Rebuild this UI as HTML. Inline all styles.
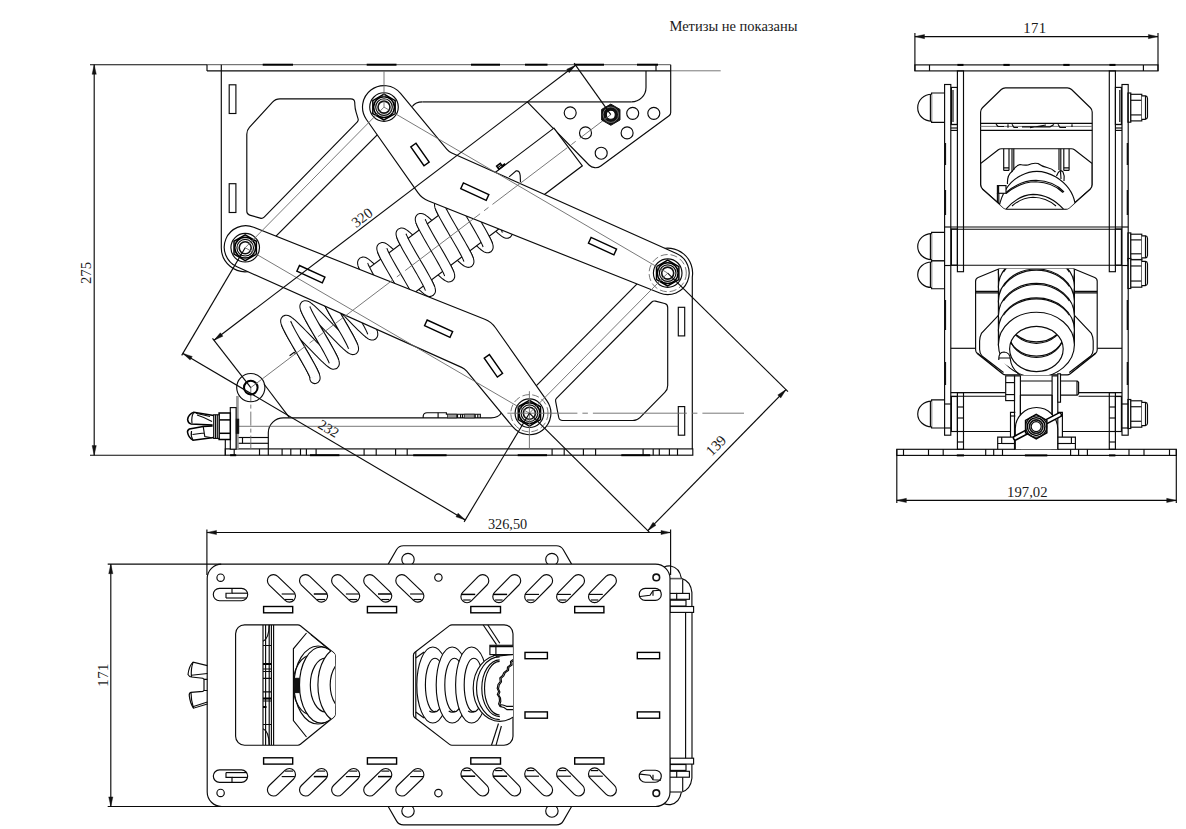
<!DOCTYPE html>
<html lang="ru"><head><meta charset="utf-8"><title>Чертёж</title>
<style>
html,body{margin:0;padding:0;background:#fff}
svg{display:block}
.m{fill:none;stroke:#0a0a0a;stroke-width:1.15}
.mw{fill:#fff;stroke:#0a0a0a;stroke-width:1.15}
.m2{fill:none;stroke:#555;stroke-width:.8}
.g{fill:none;stroke:#6a6a6a;stroke-width:.9}
.gk{fill:none;stroke:#5a5a5a;stroke-width:1.6}
.gf{fill:#9a9a9a;stroke:#222;stroke-width:.8}
.gf2{fill:#9a9a9a;stroke:none}
.mw15{fill:#fff;stroke:#000;stroke-width:1.5}
.fw{fill:#fff;stroke:none}
.gr{fill:none;stroke:#777;stroke-width:.9}
.k15{fill:none;stroke:#000;stroke-width:1.5}
.g1{fill:none;stroke:#555;stroke-width:1}
.gd{fill:none;stroke:#6a6a6a;stroke-width:.9;stroke-dasharray:7 3}
.gc{fill:none;stroke:#6a6a6a;stroke-width:.9;stroke-dasharray:94 5 5.5 5}
.gc2{fill:none;stroke:#6a6a6a;stroke-width:.9;stroke-dasharray:14 3 4 3}
.s{fill:none;stroke:#000;stroke-width:1.4}
.wb{fill:none;stroke:#0a0a0a;stroke-width:11.05}
.ww{fill:none;stroke:#fff;stroke-width:8.95}
.rj{stroke-linejoin:round;stroke-linecap:round}
.k2{fill:none;stroke:#111;stroke-width:1.6}
.k3{fill:none;stroke:#000;stroke-width:2}
.kf{fill:#111;stroke:#111;stroke-width:1}
.a{fill:#111;stroke:#111;stroke-width:.4}
.t{font-family:"Liberation Serif",serif;fill:#1a1a1a}
</style></head>
<body>
<svg width="1186" height="829" viewBox="0 0 1186 829">
<path class="m" d="M90 64.7L207 64.7"/>
<path class="g1" d="M207 64.7L670.7 64.7"/>
<path class="k3" d="M262.7 64.7L293 64.7"/>
<path class="k3" d="M366.7 64.7L396.5 64.7"/>
<path class="k3" d="M471 64.7L500 64.7"/>
<path class="k3" d="M525 64.7L547.5 64.7"/>
<path class="k3" d="M574.5 64.7L604 64.7"/>
<path class="k3" d="M637 64.7L658 64.7"/>
<path class="m" d="M207 70.9L670.7 70.9"/>
<path class="m" d="M207 64.7L207 70.9"/>
<path class="m" d="M656 64.7L656 70.9"/>
<path class="g" d="M670.7 70.8L720.7 70.8"/>
<path class="m" d="M221.3 64.7L221.3 247.5A24.1 24.1 0 0 0 250.21 271.27"/>
<rect class="m" x="229.2" y="84.8" width="6.7" height="28.7"/>
<rect class="m" x="229.2" y="183.7" width="6.7" height="28.8"/>
<path class="m" d="M272.53 102.07A10 10 0 0 1 279.92 98.8L350.76 98.8A4 4 0 0 1 354.76 102.64L354.85 104.76A30 30 0 0 0 356.07 112.08L358.1 118.91A3 3 0 0 1 357.37 121.86L264.17 217.1A4 4 0 0 1 260.21 218.14L249.7 215.13A4 4 0 0 1 246.8 211.29L246.8 134.17A10 10 0 0 1 249.41 127.44Z"/>
<path class="m" d="M270 242.2L382 130.2"/>
<path class="m" d="M412.3 106.5Q415.5 101.9 422.6 101.9"/>
<path class="gk" d="M422.6 101.9L631.5 101.9"/>
<path class="m" d="M631.5 101.9A14.5 14.5 0 0 0 646 87.4L646 70.9"/>
<path class="m" d="M527.3 101.9L589.03 165.01A9 9 0 0 0 600.8 165.96L669.07 115.7A4 4 0 0 0 670.7 112.48L670.7 64.7"/>
<circle class="m" cx="570.2" cy="112.8" r="6"/>
<circle class="m" cx="632.7" cy="113.3" r="6"/>
<circle class="m" cx="653.8" cy="113.3" r="6"/>
<circle class="m" cx="585.5" cy="132.9" r="6"/>
<circle class="m" cx="627.1" cy="132.9" r="6"/>
<circle class="m" cx="601.2" cy="153.2" r="6"/>
<path class="m" d="M692.3 448.9L692.3 277.1 A25 25 0 0 0 659.15 249.61"/>
<rect class="m" x="678.3" y="307.3" width="6.4" height="28.6"/>
<rect class="m" x="678.3" y="406.6" width="6.4" height="28.6"/>
<path class="m" d="M531 391.2L643 277.8"/>
<path class="m" d="M651.59 302.23A4 4 0 0 1 655.42 301.17L664.69 303.53A4 4 0 0 1 667.7 307.41L667.7 385.39A10 10 0 0 1 664.81 392.42L639.93 417.54A10 10 0 0 1 632.83 420.5L562.61 420.5A4 4 0 0 1 558.68 417.25L555.6 401.05A3 3 0 0 1 556.41 398.38Z"/>
<rect class="m" x="225.3" y="448.9" width="467.5" height="6.3"/>
<path class="m" d="M90 455.2L225.3 455.2"/>
<path class="m" d="M234.2 448.9L234.2 455.2"/>
<path class="m" d="M259.5 448.9L259.5 455.2"/>
<path class="m" d="M268.3 448.9L268.3 455.2"/>
<path class="m" d="M282.1 448.9L282.1 455.2"/>
<path class="m" d="M290.8 448.9L290.8 455.2"/>
<path class="m" d="M300.5 448.9L300.5 455.2"/>
<path class="m" d="M306.4 448.9L306.4 455.2"/>
<path class="m" d="M316.1 448.9L316.1 455.2"/>
<path class="m" d="M364.1 448.9L364.1 455.2"/>
<path class="m" d="M376.2 448.9L376.2 455.2"/>
<path class="m" d="M395.6 448.9L395.6 455.2"/>
<path class="m" d="M407.2 448.9L407.2 455.2"/>
<path class="m" d="M552.1 448.9L552.1 455.2"/>
<path class="m" d="M564.2 448.9L564.2 455.2"/>
<path class="m" d="M583.4 448.9L583.4 455.2"/>
<path class="m" d="M595.6 448.9L595.6 455.2"/>
<path class="m" d="M643.1 448.9L643.1 455.2"/>
<path class="m" d="M653.2 448.9L653.2 455.2"/>
<path class="m" d="M659.3 448.9L659.3 455.2"/>
<path class="m" d="M669.4 448.9L669.4 455.2"/>
<path class="m" d="M677.5 448.9L677.5 455.2"/>
<path class="k3" d="M230.1 455.2L236.2 455.2"/>
<path class="k3" d="M310 455.2L339.4 455.2"/>
<path class="k3" d="M413.2 455.2L446.6 455.2"/>
<path class="k3" d="M517.7 455.2L547 455.2"/>
<path class="k3" d="M621.3 455.2L650.2 455.2"/>
<path class="m" d="M268.3 448.9L268.3 432.4A15 15 0 0 1 283.3 417.9L491 417.9Q498.5 417.9 501.5 412.8"/>
<path class="m" d="M423.2 417.9L423.2 416Q423.5 412.7 427 412.7L446.4 412.7L446.4 414.2L480.3 414.2L480.3 417.9"/>
<path class="m" d="M438.1 412.7L438.1 417.9"/>
<rect class="gf" x="447.4" y="414.2" width="9.1" height="3.7"/>
<rect class="gf" x="464.6" y="414.2" width="9.7" height="3.7"/>
<path class="m" d="M457.5 414.2L457.5 417.9"/>
<path class="m" d="M460.6 414.2L460.6 417.9"/>
<path class="m" d="M462.6 414.2L462.6 417.9"/>
<path class="m" d="M475.2 414.2L475.2 417.9"/>
<path class="m" d="M477.8 414.2L477.8 417.9"/>
<path class="m2" d="M226 426.3L678.3 426.3"/>
<path class="m" d="M225.3 426.8L225.3 455.2"/>
<path class="m" d="M238.2 437.5L268.3 437.5"/>
<path class="m" d="M238.2 443.3L268.3 443.3"/>
<path class="m" d="M242.5 437.5L242.5 443.3"/>
<path class="m" d="M237.5 396L237.5 448.9"/>
<path class="m" d="M264 384L289.2 417.4"/>
<path class="gc2" d="M250.8 387.6L250.8 448.9"/>
<circle class="m" cx="250.8" cy="387.6" r="14.1"/>
<circle class="k3" cx="250.8" cy="387.6" r="6.8"/>
<rect class="gf2" x="236.1" y="396" width="2.6" height="53.2"/>
<rect class="mw" x="230.3" y="407.6" width="5.8" height="41.6"/>
<rect class="kf" x="236.3" y="419.2" width="2.4" height="14.1"/>
<rect class="mw15" x="219.1" y="413" width="11.2" height="26.5"/>
<path class="k15" d="M219.1 419.9L230.3 419.9"/>
<path class="k15" d="M219.1 433.3L230.3 433.3"/>
<rect class="mw" x="213.7" y="414.8" width="5.4" height="23.6"/>
<path class="m" d="M215.5 414.8L215.5 438.4"/>
<path class="m" d="M217.3 414.8L217.3 438.4"/>
<path class="k15" d="M213.7 415.6L193.8 412.3Q188.5 414 187.6 419.6Q188 423 190.9 423.9L211.9 425L211.9 426.1L203.2 426.4L189.4 429Q187 430.5 187.6 432.6Q188.5 437.5 193 440.2L211.9 437.7L213.7 437.4"/>
<path class="m" d="M193.8 412.3Q191 417 192 423.5M196 413.2L210 416.5M197 415Q205 417.5 212 421.5M193 440.2Q190.5 436 191.5 431M203.2 426.4L204.8 436.5L211.9 437.7M192.5 434.5L203.8 433"/>
<path class="wb rj" d="M478.18 174.87L477.95 175.34L478 176.17L478.33 177.37L478.91 178.92L479.75 180.79L480.82 182.97L482.1 185.43L483.56 188.14L485.19 191.05L486.94 194.14L488.8 197.36L490.72 200.68L492.68 204.03L494.63 207.39L496.56 210.7L498.41 213.92L500.17 217.01L501.79 219.93L503.26 222.64L504.54 225.09L505.6 227.28L506.44 229.15L507.03 230.69L507.35 231.89L507.4 232.73L507.17 233.19L506.66 233.28L505.87 233.01L504.81 232.37L503.48 231.39L501.91 230.07L500.1 228.45L498.08 226.55L495.88 224.4L493.51 222.05L491.02 219.52L488.42 216.85L485.76 214.1L483.06 211.3L480.37 208.51L477.7 205.76L475.11 203.09L472.61 200.56L470.25 198.2L468.04 196.06L466.03 194.16L464.22 192.54L462.64 191.22L461.32 190.24L460.25 189.6L459.46 189.32L458.95 189.42L458.72 189.88L458.77 190.72L459.1 191.91L459.68 193.46L460.52 195.33L461.59 197.51L462.87 199.97L464.33 202.68L465.96 205.6L467.71 208.69L469.57 211.91L471.49 215.22L473.45 218.58L475.4 221.93L477.33 225.24L479.18 228.47L480.94 231.56L482.56 234.47L484.03 237.18L485.31 239.64L486.37 241.82L487.21 243.69L487.8 245.24L488.12 246.43L488.17 247.27L487.94 247.73L487.43 247.83L486.64 247.55L485.58 246.91L484.25 245.93L482.68 244.61L480.87 242.99L478.85 241.09L476.65 238.95L474.28 236.59L471.79 234.06L469.19 231.4L466.53 228.64L463.83 225.85L461.14 223.05L458.47 220.3L455.88 217.64L453.38 215.1L451.02 212.75L448.81 210.6L446.8 208.7L444.99 207.08L443.41 205.76L442.09 204.78L441.02 204.14L440.23 203.87L439.72 203.96L439.49 204.43L439.54 205.26L439.87 206.46L440.45 208L441.29 209.88L442.36 212.06L443.64 214.52L445.1 217.22L446.73 220.14L448.48 223.23L450.34 226.45L452.26 229.76L454.22 233.12L456.17 236.47L458.1 239.79L459.95 243.01L461.71 246.1L463.33 249.02L464.8 251.72L466.08 254.18L467.14 256.36L467.98 258.24L468.57 259.78L468.89 260.98L468.94 261.81L468.71 262.28L468.2 262.37L467.41 262.1L466.35 261.46L465.02 260.47L463.45 259.16L461.64 257.54L459.62 255.64L457.42 253.49L455.05 251.13L452.56 248.6L449.96 245.94L447.3 243.19L444.6 240.39L441.91 237.59L439.24 234.84L436.65 232.18L434.15 229.65L431.79 227.29L429.58 225.14L427.57 223.24L425.76 221.62L424.18 220.31L422.86 219.32L421.79 218.69L421 218.41L420.49 218.5L420.26 218.97L420.31 219.8L420.64 221L421.22 222.55L422.06 224.42L423.13 226.6L424.41 229.06L425.87 231.76L427.5 234.68L429.25 237.77L431.11 240.99L433.03 244.31L434.99 247.66L436.94 251.02L438.87 254.33L440.72 257.55L442.48 260.64L444.1 263.56L445.57 266.26L446.85 268.72L447.91 270.9L448.75 272.78L449.34 274.32L449.66 275.52L449.71 276.36L449.48 276.82L448.97 276.91L448.18 276.64L447.12 276L445.79 275.02L444.22 273.7L442.41 272.08L440.39 270.18L438.19 268.03L435.82 265.68L433.33 263.15L430.73 260.48L428.07 257.73L425.37 254.93L422.68 252.14L420.01 249.38L417.42 246.72L414.92 244.19L412.56 241.83L410.35 239.69L408.34 237.79L406.53 236.17L404.95 234.85L403.63 233.87L402.56 233.23L401.77 232.95L401.26 233.05L401.03 233.51L401.08 234.35L401.41 235.54L401.99 237.09L402.83 238.96L403.9 241.14L405.18 243.6L406.64 246.31L408.27 249.23L410.02 252.32L411.88 255.54L413.8 258.85L415.76 262.21L417.71 265.56L419.64 268.87L421.49 272.09L423.25 275.18L424.87 278.1L426.34 280.81L427.62 283.27L428.68 285.45L429.52 287.32L430.11 288.87L430.43 290.06L430.48 290.9L430.25 291.36L429.74 291.46L428.95 291.18L427.89 290.54L426.56 289.56L424.99 288.24L423.18 286.62L421.16 284.72L418.96 282.58L416.59 280.22L414.1 277.69L411.5 275.03L408.84 272.27L406.14 269.48L403.45 266.68L400.78 263.93L398.19 261.26L395.69 258.73L393.33 256.38L391.12 254.23L389.11 252.33L387.3 250.71L385.72 249.39L384.4 248.41L383.33 247.77L382.54 247.5L382.03 247.59L381.8 248.05L381.85 248.89L382.18 250.09L382.76 251.63L383.6 253.51L384.67 255.69L385.95 258.15L387.41 260.85L389.04 263.77L390.79 266.86L392.65 270.08L394.57 273.39L396.53 276.75L398.48 280.1L400.41 283.42L402.26 286.64L404.02 289.73L405.64 292.65L407.11 295.35L408.39 297.81L409.45 299.99L410.29 301.86L410.88 303.41L411.2 304.61L411.25 305.44L411.02 305.91L410.51 306L409.72 305.72L408.66 305.09L407.33 304.1L405.76 302.79L403.95 301.17L401.93 299.27L399.73 297.12L397.36 294.76L394.87 292.23L392.27 289.57L389.61 286.82L386.91 284.02L384.22 281.22L381.55 278.47L378.96 275.81L376.46 273.28L374.1 270.92L371.89 268.77L369.87 266.87L368.07 265.25L366.49 263.94L365.17 262.95L364.1 262.31L363.31 262.04L362.8 262.13L362.57 262.6L362.62 263.43L362.95 264.63L363.53 266.17L364.37 268.05L365.44 270.23L366.72 272.69L368.18 275.39L369.81 278.31L371.56 281.4L373.42 284.62L375.34 287.94L377.3 291.29L379.25 294.65L381.18 297.96L383.03 301.18L384.79 304.27L386.41 307.19L387.88 309.89L389.16 312.35L390.22 314.53L391.06 316.41L391.65 317.95L391.97 319.15L392.02 319.98L391.79 320.45L391.28 320.54L390.49 320.27L389.43 319.63L388.1 318.65L386.53 317.33L384.72 315.71L382.7 313.81L380.5 311.66L378.13 309.31L375.64 306.77L373.04 304.11L370.38 301.36L367.68 298.56L364.99 295.77L362.32 293.01L359.73 290.35L357.23 287.82L354.87 285.46L352.66 283.32L350.64 281.42L348.84 279.8L347.26 278.48L345.94 277.5L344.87 276.86L344.08 276.58L343.57 276.68L343.34 277.14L343.39 277.98L343.72 279.17L344.3 280.72L345.14 282.59L346.21 284.77L347.49 287.23L348.95 289.94L350.58 292.85L352.33 295.94L354.19 299.17L356.11 302.48L358.07 305.83L360.02 309.19L361.95 312.5L363.8 315.72L365.56 318.81L367.18 321.73L368.65 324.44L369.93 326.9L370.99 329.08L371.83 330.95L372.42 332.5L372.74 333.69L372.79 334.53L372.56 334.99L372.05 335.09L371.26 334.81L370.2 334.17L368.87 333.19L367.3 331.87L365.49 330.25L363.47 328.35L361.27 326.21L358.9 323.85L356.41 321.32L353.81 318.65L351.15 315.9L348.45 313.11L345.75 310.31L343.09 307.56L340.5 304.89L338 302.36L335.64 300.01L333.43 297.86L331.41 295.96L329.61 294.34L328.03 293.02L326.71 292.04L325.64 291.4L324.85 291.13L324.34 291.22L324.11 291.68L324.16 292.52L324.49 293.72L325.07 295.26L325.91 297.14L326.98 299.32L328.26 301.77L329.72 304.48L331.35 307.4L333.1 310.49L334.96 313.71L336.88 317.02L338.84 320.38L340.79 323.73L342.72 327.05L344.57 330.27L346.33 333.36L347.95 336.27L349.42 338.98L350.7 341.44L351.76 343.62L352.6 345.49L353.19 347.04L353.51 348.24L353.56 349.07L353.33 349.54L352.82 349.63L352.03 349.35L350.97 348.72L349.64 347.73L348.07 346.42L346.26 344.8L344.24 342.9L342.04 340.75L339.67 338.39L337.18 335.86L334.58 333.2L331.92 330.45L329.22 327.65L326.52 324.85L323.86 322.1L321.27 319.44L318.77 316.91L316.41 314.55L314.2 312.4L312.18 310.5L310.38 308.88L308.8 307.57L307.48 306.58L306.41 305.94L305.62 305.67L305.11 305.76L304.88 306.23L304.93 307.06L305.26 308.26L305.84 309.8L306.68 311.68L307.75 313.86L309.03 316.32L310.49 319.02L312.12 321.94L313.87 325.03L315.73 328.25L317.65 331.56L319.61 334.92L321.56 338.28L323.49 341.59L325.34 344.81L327.1 347.9L328.72 350.82L330.19 353.52L331.47 355.98L332.53 358.16L333.37 360.04L333.96 361.58L334.28 362.78L334.33 363.61L334.1 364.08L333.59 364.17L332.8 363.9L331.74 363.26L330.41 362.27L328.84 360.96L327.03 359.34L325.01 357.44L322.81 355.29L320.44 352.93L317.95 350.4L315.35 347.74L312.69 344.99L309.99 342.19L307.29 339.4L304.63 336.64L302.04 333.98L299.54 331.45L297.18 329.09L294.97 326.95L292.95 325.05L291.15 323.42L289.57 322.11L288.24 321.12L287.18 320.49L286.39 320.21L285.88 320.3L285.65 320.77L285.7 321.61L286.03 322.8L286.61 324.35L287.45 326.22L288.52 328.4L289.8 330.86L291.26 333.57L292.89 336.48L294.64 339.57L296.5 342.8L298.42 346.11L300.38 349.46L302.33 352.82L304.26 356.13L306.11 359.35L307.87 362.44L309.49 365.36L310.96 368.07L312.24 370.53L313.3 372.71L314.14 374.58L314.73 376.13L315.05 377.32L315.1 378.16L314.87 378.62"/><path class="ww rj" d="M478.18 174.87L477.95 175.34L478 176.17L478.33 177.37L478.91 178.92L479.75 180.79L480.82 182.97L482.1 185.43L483.56 188.14L485.19 191.05L486.94 194.14L488.8 197.36L490.72 200.68L492.68 204.03L494.63 207.39L496.56 210.7L498.41 213.92L500.17 217.01L501.79 219.93L503.26 222.64L504.54 225.09L505.6 227.28L506.44 229.15L507.03 230.69L507.35 231.89L507.4 232.73L507.17 233.19L506.66 233.28L505.87 233.01L504.81 232.37L503.48 231.39L501.91 230.07L500.1 228.45L498.08 226.55L495.88 224.4L493.51 222.05L491.02 219.52L488.42 216.85L485.76 214.1L483.06 211.3L480.37 208.51L477.7 205.76L475.11 203.09L472.61 200.56L470.25 198.2L468.04 196.06L466.03 194.16L464.22 192.54L462.64 191.22L461.32 190.24L460.25 189.6L459.46 189.32L458.95 189.42L458.72 189.88L458.77 190.72L459.1 191.91L459.68 193.46L460.52 195.33L461.59 197.51L462.87 199.97L464.33 202.68L465.96 205.6L467.71 208.69L469.57 211.91L471.49 215.22L473.45 218.58L475.4 221.93L477.33 225.24L479.18 228.47L480.94 231.56L482.56 234.47L484.03 237.18L485.31 239.64L486.37 241.82L487.21 243.69L487.8 245.24L488.12 246.43L488.17 247.27L487.94 247.73L487.43 247.83L486.64 247.55L485.58 246.91L484.25 245.93L482.68 244.61L480.87 242.99L478.85 241.09L476.65 238.95L474.28 236.59L471.79 234.06L469.19 231.4L466.53 228.64L463.83 225.85L461.14 223.05L458.47 220.3L455.88 217.64L453.38 215.1L451.02 212.75L448.81 210.6L446.8 208.7L444.99 207.08L443.41 205.76L442.09 204.78L441.02 204.14L440.23 203.87L439.72 203.96L439.49 204.43L439.54 205.26L439.87 206.46L440.45 208L441.29 209.88L442.36 212.06L443.64 214.52L445.1 217.22L446.73 220.14L448.48 223.23L450.34 226.45L452.26 229.76L454.22 233.12L456.17 236.47L458.1 239.79L459.95 243.01L461.71 246.1L463.33 249.02L464.8 251.72L466.08 254.18L467.14 256.36L467.98 258.24L468.57 259.78L468.89 260.98L468.94 261.81L468.71 262.28L468.2 262.37L467.41 262.1L466.35 261.46L465.02 260.47L463.45 259.16L461.64 257.54L459.62 255.64L457.42 253.49L455.05 251.13L452.56 248.6L449.96 245.94L447.3 243.19L444.6 240.39L441.91 237.59L439.24 234.84L436.65 232.18L434.15 229.65L431.79 227.29L429.58 225.14L427.57 223.24L425.76 221.62L424.18 220.31L422.86 219.32L421.79 218.69L421 218.41L420.49 218.5L420.26 218.97L420.31 219.8L420.64 221L421.22 222.55L422.06 224.42L423.13 226.6L424.41 229.06L425.87 231.76L427.5 234.68L429.25 237.77L431.11 240.99L433.03 244.31L434.99 247.66L436.94 251.02L438.87 254.33L440.72 257.55L442.48 260.64L444.1 263.56L445.57 266.26L446.85 268.72L447.91 270.9L448.75 272.78L449.34 274.32L449.66 275.52L449.71 276.36L449.48 276.82L448.97 276.91L448.18 276.64L447.12 276L445.79 275.02L444.22 273.7L442.41 272.08L440.39 270.18L438.19 268.03L435.82 265.68L433.33 263.15L430.73 260.48L428.07 257.73L425.37 254.93L422.68 252.14L420.01 249.38L417.42 246.72L414.92 244.19L412.56 241.83L410.35 239.69L408.34 237.79L406.53 236.17L404.95 234.85L403.63 233.87L402.56 233.23L401.77 232.95L401.26 233.05L401.03 233.51L401.08 234.35L401.41 235.54L401.99 237.09L402.83 238.96L403.9 241.14L405.18 243.6L406.64 246.31L408.27 249.23L410.02 252.32L411.88 255.54L413.8 258.85L415.76 262.21L417.71 265.56L419.64 268.87L421.49 272.09L423.25 275.18L424.87 278.1L426.34 280.81L427.62 283.27L428.68 285.45L429.52 287.32L430.11 288.87L430.43 290.06L430.48 290.9L430.25 291.36L429.74 291.46L428.95 291.18L427.89 290.54L426.56 289.56L424.99 288.24L423.18 286.62L421.16 284.72L418.96 282.58L416.59 280.22L414.1 277.69L411.5 275.03L408.84 272.27L406.14 269.48L403.45 266.68L400.78 263.93L398.19 261.26L395.69 258.73L393.33 256.38L391.12 254.23L389.11 252.33L387.3 250.71L385.72 249.39L384.4 248.41L383.33 247.77L382.54 247.5L382.03 247.59L381.8 248.05L381.85 248.89L382.18 250.09L382.76 251.63L383.6 253.51L384.67 255.69L385.95 258.15L387.41 260.85L389.04 263.77L390.79 266.86L392.65 270.08L394.57 273.39L396.53 276.75L398.48 280.1L400.41 283.42L402.26 286.64L404.02 289.73L405.64 292.65L407.11 295.35L408.39 297.81L409.45 299.99L410.29 301.86L410.88 303.41L411.2 304.61L411.25 305.44L411.02 305.91L410.51 306L409.72 305.72L408.66 305.09L407.33 304.1L405.76 302.79L403.95 301.17L401.93 299.27L399.73 297.12L397.36 294.76L394.87 292.23L392.27 289.57L389.61 286.82L386.91 284.02L384.22 281.22L381.55 278.47L378.96 275.81L376.46 273.28L374.1 270.92L371.89 268.77L369.87 266.87L368.07 265.25L366.49 263.94L365.17 262.95L364.1 262.31L363.31 262.04L362.8 262.13L362.57 262.6L362.62 263.43L362.95 264.63L363.53 266.17L364.37 268.05L365.44 270.23L366.72 272.69L368.18 275.39L369.81 278.31L371.56 281.4L373.42 284.62L375.34 287.94L377.3 291.29L379.25 294.65L381.18 297.96L383.03 301.18L384.79 304.27L386.41 307.19L387.88 309.89L389.16 312.35L390.22 314.53L391.06 316.41L391.65 317.95L391.97 319.15L392.02 319.98L391.79 320.45L391.28 320.54L390.49 320.27L389.43 319.63L388.1 318.65L386.53 317.33L384.72 315.71L382.7 313.81L380.5 311.66L378.13 309.31L375.64 306.77L373.04 304.11L370.38 301.36L367.68 298.56L364.99 295.77L362.32 293.01L359.73 290.35L357.23 287.82L354.87 285.46L352.66 283.32L350.64 281.42L348.84 279.8L347.26 278.48L345.94 277.5L344.87 276.86L344.08 276.58L343.57 276.68L343.34 277.14L343.39 277.98L343.72 279.17L344.3 280.72L345.14 282.59L346.21 284.77L347.49 287.23L348.95 289.94L350.58 292.85L352.33 295.94L354.19 299.17L356.11 302.48L358.07 305.83L360.02 309.19L361.95 312.5L363.8 315.72L365.56 318.81L367.18 321.73L368.65 324.44L369.93 326.9L370.99 329.08L371.83 330.95L372.42 332.5L372.74 333.69L372.79 334.53L372.56 334.99L372.05 335.09L371.26 334.81L370.2 334.17L368.87 333.19L367.3 331.87L365.49 330.25L363.47 328.35L361.27 326.21L358.9 323.85L356.41 321.32L353.81 318.65L351.15 315.9L348.45 313.11L345.75 310.31L343.09 307.56L340.5 304.89L338 302.36L335.64 300.01L333.43 297.86L331.41 295.96L329.61 294.34L328.03 293.02L326.71 292.04L325.64 291.4L324.85 291.13L324.34 291.22L324.11 291.68L324.16 292.52L324.49 293.72L325.07 295.26L325.91 297.14L326.98 299.32L328.26 301.77L329.72 304.48L331.35 307.4L333.1 310.49L334.96 313.71L336.88 317.02L338.84 320.38L340.79 323.73L342.72 327.05L344.57 330.27L346.33 333.36L347.95 336.27L349.42 338.98L350.7 341.44L351.76 343.62L352.6 345.49L353.19 347.04L353.51 348.24L353.56 349.07L353.33 349.54L352.82 349.63L352.03 349.35L350.97 348.72L349.64 347.73L348.07 346.42L346.26 344.8L344.24 342.9L342.04 340.75L339.67 338.39L337.18 335.86L334.58 333.2L331.92 330.45L329.22 327.65L326.52 324.85L323.86 322.1L321.27 319.44L318.77 316.91L316.41 314.55L314.2 312.4L312.18 310.5L310.38 308.88L308.8 307.57L307.48 306.58L306.41 305.94L305.62 305.67L305.11 305.76L304.88 306.23L304.93 307.06L305.26 308.26L305.84 309.8L306.68 311.68L307.75 313.86L309.03 316.32L310.49 319.02L312.12 321.94L313.87 325.03L315.73 328.25L317.65 331.56L319.61 334.92L321.56 338.28L323.49 341.59L325.34 344.81L327.1 347.9L328.72 350.82L330.19 353.52L331.47 355.98L332.53 358.16L333.37 360.04L333.96 361.58L334.28 362.78L334.33 363.61L334.1 364.08L333.59 364.17L332.8 363.9L331.74 363.26L330.41 362.27L328.84 360.96L327.03 359.34L325.01 357.44L322.81 355.29L320.44 352.93L317.95 350.4L315.35 347.74L312.69 344.99L309.99 342.19L307.29 339.4L304.63 336.64L302.04 333.98L299.54 331.45L297.18 329.09L294.97 326.95L292.95 325.05L291.15 323.42L289.57 322.11L288.24 321.12L287.18 320.49L286.39 320.21L285.88 320.3L285.65 320.77L285.7 321.61L286.03 322.8L286.61 324.35L287.45 326.22L288.52 328.4L289.8 330.86L291.26 333.57L292.89 336.48L294.64 339.57L296.5 342.8L298.42 346.11L300.38 349.46L302.33 352.82L304.26 356.13L306.11 359.35L307.87 362.44L309.49 365.36L310.96 368.07L312.24 370.53L313.3 372.71L314.14 374.58L314.73 376.13L315.05 377.32L315.1 378.16L314.87 378.62"/>
<path class="mw" d="M553.89 128.15L357.28 276.84L385.76 314.48L582.36 165.79Z"/>
<path class="wb" d="M286.02 322.77L286.6 324.32L287.43 326.19L288.5 328.37L289.78 330.83L291.24 333.54L292.87 336.46L294.63 339.55L296.49 342.78L298.42 346.1L300.38 349.46L302.34 352.83L304.26 356.14L306.12 359.37L307.88 362.47L309.51 365.39L310.97 368.1L312.25 370.56L313.32 372.74L314.15 374.61L314.74 376.15"/><path class="ww" d="M285.83 322.14L286.28 323.51L286.99 325.22L287.94 327.25L289.12 329.57L290.49 332.16L292.04 334.98L293.74 337.99L295.55 341.16L297.45 344.44L299.39 347.78L301.36 351.15L303.31 354.49L305.2 357.77L307.01 360.94L308.71 363.95L310.26 366.77L311.63 369.36L312.81 371.68L313.76 373.71L314.47 375.42L314.93 376.79"/>
<path class="wb" d="M305.25 308.23L305.83 309.77L306.66 311.64L307.73 313.83L309.01 316.29L310.47 318.99L312.1 321.92L313.86 325.01L315.72 328.24L317.65 331.56L319.61 334.92L321.57 338.28L323.49 341.6L325.35 344.83L327.11 347.93L328.74 350.85L330.2 353.56L331.48 356.02L332.55 358.2L333.38 360.07L333.97 361.61"/><path class="ww" d="M305.06 307.6L305.51 308.97L306.22 310.68L307.17 312.71L308.35 315.03L309.72 317.62L311.27 320.44L312.97 323.45L314.78 326.62L316.68 329.89L318.62 333.24L320.59 336.6L322.54 339.95L324.43 343.23L326.24 346.39L327.94 349.4L329.49 352.22L330.86 354.81L332.04 357.14L332.99 359.17L333.7 360.88L334.16 362.25"/>
<path class="wb" d="M324.48 293.69L325.06 295.23L325.89 297.1L326.96 299.28L328.24 301.74L329.7 304.45L331.33 307.37L333.09 310.47L334.95 313.7L336.88 317.01L338.84 320.38L340.8 323.74L342.72 327.06L344.58 330.29L346.34 333.38L347.97 336.3L349.43 339.01L350.71 341.47L351.78 343.65L352.61 345.53L353.2 347.07"/><path class="ww" d="M324.29 293.05L324.74 294.42L325.45 296.13L326.4 298.16L327.58 300.49L328.95 303.07L330.5 305.89L332.2 308.91L334.01 312.07L335.91 315.35L337.85 318.69L339.82 322.06L341.77 325.41L343.66 328.68L345.47 331.85L347.17 334.86L348.72 337.68L350.1 340.27L351.27 342.59L352.22 344.62L352.93 346.33L353.39 347.7"/>
<path class="wb" d="M343.71 279.14L344.29 280.69L345.12 282.56L346.19 284.74L347.47 287.2L348.93 289.91L350.56 292.83L352.32 295.93L354.18 299.15L356.11 302.47L358.07 305.83L360.03 309.2L361.95 312.52L363.81 315.74L365.57 318.84L367.2 321.76L368.66 324.47L369.94 326.93L371.01 329.11L371.84 330.98L372.43 332.52"/><path class="ww" d="M343.52 278.51L343.97 279.88L344.68 281.59L345.63 283.62L346.81 285.94L348.18 288.53L349.73 291.35L351.43 294.36L353.24 297.53L355.14 300.81L357.08 304.15L359.05 307.52L361 310.86L362.89 314.14L364.7 317.31L366.4 320.32L367.95 323.14L369.33 325.73L370.5 328.05L371.45 330.08L372.16 331.79L372.62 333.16"/>
<path class="wb" d="M362.94 264.6L363.52 266.14L364.35 268.02L365.42 270.2L366.7 272.66L368.16 275.37L369.79 278.29L371.55 281.38L373.41 284.61L375.34 287.93L377.3 291.29L379.26 294.65L381.18 297.97L383.04 301.2L384.8 304.3L386.43 307.22L387.89 309.93L389.17 312.39L390.24 314.57L391.07 316.44L391.66 317.98"/><path class="ww" d="M362.75 263.97L363.2 265.34L363.91 267.05L364.86 269.08L366.04 271.4L367.41 273.99L368.96 276.81L370.66 279.82L372.47 282.99L374.37 286.26L376.31 289.61L378.28 292.97L380.23 296.32L382.12 299.6L383.93 302.76L385.63 305.78L387.18 308.59L388.56 311.18L389.73 313.51L390.68 315.54L391.39 317.25L391.85 318.62"/>
<path class="wb" d="M382.17 250.06L382.75 251.6L383.58 253.47L384.65 255.65L385.93 258.11L387.39 260.82L389.02 263.74L390.78 266.84L392.64 270.07L394.57 273.39L396.53 276.75L398.49 280.11L400.41 283.43L402.27 286.66L404.03 289.75L405.66 292.67L407.12 295.38L408.4 297.84L409.47 300.02L410.3 301.9L410.89 303.44"/><path class="ww" d="M381.98 249.42L382.43 250.79L383.14 252.5L384.09 254.53L385.27 256.86L386.64 259.44L388.19 262.26L389.89 265.28L391.7 268.44L393.6 271.72L395.54 275.06L397.51 278.43L399.46 281.78L401.35 285.05L403.16 288.22L404.86 291.23L406.41 294.05L407.79 296.64L408.96 298.96L409.91 300.99L410.62 302.7L411.08 304.07"/>
<path class="wb" d="M401.4 235.52L401.98 237.06L402.81 238.93L403.88 241.11L405.16 243.57L406.62 246.28L408.25 249.2L410.01 252.3L411.87 255.52L413.8 258.84L415.76 262.21L417.72 265.57L419.64 268.89L421.5 272.11L423.26 275.21L424.89 278.13L426.35 280.84L427.63 283.3L428.7 285.48L429.53 287.35L430.12 288.89"/><path class="ww" d="M401.21 234.88L401.66 236.25L402.37 237.96L403.32 239.99L404.5 242.31L405.87 244.9L407.42 247.72L409.12 250.73L410.93 253.9L412.83 257.18L414.77 260.52L416.74 263.89L418.69 267.23L420.58 270.51L422.39 273.68L424.09 276.69L425.64 279.51L427.02 282.1L428.19 284.42L429.14 286.45L429.85 288.16L430.31 289.53"/>
<path class="wb" d="M420.63 220.97L421.21 222.51L422.04 224.39L423.11 226.57L424.39 229.03L425.86 231.74L427.48 234.66L429.24 237.75L431.1 240.98L433.03 244.3L434.99 247.66L436.95 251.02L438.87 254.34L440.73 257.57L442.49 260.67L444.12 263.59L445.59 266.3L446.86 268.76L447.93 270.94L448.76 272.81L449.35 274.35"/><path class="ww" d="M420.44 220.34L420.89 221.71L421.6 223.42L422.55 225.45L423.73 227.77L425.1 230.36L426.65 233.18L428.35 236.19L430.16 239.36L432.06 242.63L434 245.98L435.97 249.35L437.92 252.69L439.81 255.97L441.62 259.13L443.32 262.15L444.87 264.97L446.25 267.55L447.42 269.88L448.37 271.91L449.08 273.62L449.54 274.99"/>
<path class="wb" d="M439.86 206.43L440.44 207.97L441.27 209.84L442.34 212.02L443.62 214.48L445.09 217.19L446.71 220.11L448.47 223.21L450.33 226.44L452.26 229.76L454.22 233.12L456.18 236.48L458.1 239.8L459.96 243.03L461.72 246.12L463.35 249.04L464.82 251.75L466.09 254.21L467.16 256.39L467.99 258.27L468.58 259.81"/><path class="ww" d="M439.67 205.79L440.12 207.16L440.83 208.87L441.78 210.9L442.96 213.23L444.33 215.82L445.88 218.63L447.58 221.65L449.39 224.81L451.29 228.09L453.24 231.44L455.2 234.8L457.15 238.15L459.04 241.42L460.85 244.59L462.55 247.6L464.1 250.42L465.48 253.01L466.65 255.33L467.6 257.36L468.31 259.07L468.77 260.44"/>
<path class="wb" d="M459.09 191.89L459.67 193.43L460.5 195.3L461.57 197.48L462.85 199.94L464.32 202.65L465.94 205.57L467.7 208.67L469.56 211.89L471.49 215.21L473.45 218.58L475.41 221.94L477.33 225.26L479.19 228.48L480.95 231.58L482.58 234.5L484.05 237.21L485.32 239.67L486.39 241.85L487.22 243.72L487.81 245.27"/><path class="ww" d="M458.9 191.25L459.35 192.62L460.06 194.33L461.01 196.36L462.19 198.68L463.56 201.27L465.11 204.09L466.81 207.1L468.62 210.27L470.52 213.55L472.47 216.89L474.43 220.26L476.38 223.6L478.27 226.88L480.08 230.05L481.78 233.06L483.33 235.88L484.71 238.47L485.88 240.79L486.83 242.82L487.55 244.53L488 245.9"/>
<path class="wb" d="M478.32 177.34L478.9 178.88L479.73 180.76L480.8 182.94L482.08 185.4L483.55 188.11L485.17 191.03L486.93 194.12L488.79 197.35L490.72 200.67L492.68 204.03L494.64 207.4L496.56 210.71L498.42 213.94L500.18 217.04L501.81 219.96L503.28 222.67L504.55 225.13L505.62 227.31L506.45 229.18L507.04 230.72"/><path class="ww" d="M478.13 176.71L478.58 178.08L479.29 179.79L480.24 181.82L481.42 184.14L482.79 186.73L484.34 189.55L486.04 192.56L487.85 195.73L489.75 199L491.7 202.35L493.66 205.72L495.61 209.06L497.5 212.34L499.32 215.5L501.01 218.52L502.56 221.34L503.94 223.92L505.11 226.25L506.06 228.28L506.78 229.99L507.23 231.36"/>
<path class="m" d="M509.1 176.9L516.2 170.9Q519.6 170.2 520.2 175.5L520.5 182.2"/>
<path class="k15" d="M496.6 166.2L500.3 163.3L502.6 166.4L498.9 169.3Z"/>
<path class="m" d="M497.7 167.7L501.5 164.9"/>
<path class="k3" d="M502.3 166L505.2 163.8"/>
<path class="m" d="M289.6 355.8L294.2 352.2L295.6 354"/>
<path class="mw" d="M400.55 93.38L446.72 149.09A14 14 0 0 0 451.78 152.93L676.48 253.47A21.5 21.5 0 0 1 659.75 293.07L428.63 201.04A24 24 0 0 1 417.89 192.56L366.42 119.48A21.5 21.5 0 0 1 400.55 93.38Z"/>
<path class="mw" d="M512.85 426.92L466.68 371.21A14 14 0 0 0 461.62 367.37L236.92 266.83A21.5 21.5 0 0 1 253.65 227.23L484.77 319.26A24 24 0 0 1 495.51 327.74L546.98 400.82A21.5 21.5 0 0 1 512.85 426.92Z"/>
<path class="s" d="M424.02 165.73L410.82 146.89L415.98 143.27L429.18 162.11Z"/>
<path class="s" d="M497.42 377.03L484.22 358.19L489.38 354.57L502.58 373.41Z"/>
<path class="s" d="M486.23 200.27L460.75 188.66L463.37 182.93L488.85 194.54Z"/>
<path class="s" d="M450.03 337.37L424.55 325.76L427.17 320.03L452.65 331.64Z"/>
<path class="s" d="M613.93 254.77L588.45 243.16L591.07 237.43L616.55 249.04Z"/>
<path class="s" d="M322.33 282.87L296.85 271.26L299.47 265.53L324.95 277.14Z"/>
<circle class="gd" cx="667.7" cy="273.1" r="18.6"/>
<circle class="gd" cx="529.4" cy="413.2" r="18.6"/>
<circle class="mw" cx="384" cy="107.1" r="14.3"/>
<path class="k15" d="M384 120L372.83 113.55L372.83 100.65L384 94.2L395.17 100.65L395.17 113.55Z"/>
<circle class="k15" cx="384" cy="107.1" r="10.4"/>
<circle class="m" cx="384" cy="107.1" r="8.3"/>
<circle class="k2" cx="384" cy="107.1" r="6"/>
<circle class="mw" cx="245.2" cy="247.7" r="14.3"/>
<path class="k15" d="M245.2 260.6L234.03 254.15L234.03 241.25L245.2 234.8L256.37 241.25L256.37 254.15Z"/>
<circle class="k15" cx="245.2" cy="247.7" r="10.4"/>
<circle class="m" cx="245.2" cy="247.7" r="8.3"/>
<circle class="k2" cx="245.2" cy="247.7" r="6"/>
<circle class="mw" cx="667.7" cy="273.1" r="14.3"/>
<path class="k15" d="M667.7 286L656.53 279.55L656.53 266.65L667.7 260.2L678.87 266.65L678.87 279.55Z"/>
<circle class="k15" cx="667.7" cy="273.1" r="10.4"/>
<circle class="m" cx="667.7" cy="273.1" r="8.3"/>
<circle class="k2" cx="667.7" cy="273.1" r="6"/>
<circle class="mw" cx="529.4" cy="413.2" r="14.3"/>
<path class="k15" d="M529.4 426.1L518.23 419.65L518.23 406.75L529.4 400.3L540.57 406.75L540.57 419.65Z"/>
<circle class="k15" cx="529.4" cy="413.2" r="10.4"/>
<circle class="m" cx="529.4" cy="413.2" r="8.3"/>
<circle class="k2" cx="529.4" cy="413.2" r="6"/>
<path class="g" d="M384 107.1L667.7 273.1"/>
<path class="g" d="M245.2 247.7L529.4 413.2"/>
<path class="g" d="M384 107.1L245.2 247.7"/>
<path class="g" d="M529.4 413.2L667.7 273.1"/>
<path class="g" d="M384 107.1L384 70.9"/>
<path class="gc" stroke-dashoffset="24" d="M507.4 413.2L744 413.2"/>
<path class="g" d="M529.4 391.2L529.4 448.9"/>
<path class="gc" stroke-dashoffset="55" d="M610.8 114.7L250.8 387.6"/>
<path class="kf" d="M610.8 125.3L601.62 120L601.62 109.4L610.8 104.1L619.98 109.4L619.98 120Z"/>
<circle class="gr" cx="610.8" cy="114.7" r="7.7"/>
<circle class="mw" cx="610.8" cy="114.7" r="4.5"/>
<path class="g" d="M610.8 114.7L604.8 119.2"/>
<path class="m" d="M94.2 64.7L94.2 455.2"/>
<path class="a" d="M94.2 64.7L96.3 74.3L92.1 74.3Z"/>
<path class="a" d="M94.2 455.2L92.1 445.6L96.3 445.6Z"/>
<text class="t" x="91" y="273" font-size="14.7" text-anchor="middle" transform="rotate(-90 91 273)">275</text>
<path class="m" d="M575.6 65.2L214 340.3"/>
<path class="a" d="M575.6 65.2L569.23 72.68L566.69 69.34Z"/>
<path class="a" d="M214 340.3L220.37 332.82L222.91 336.16Z"/>
<path class="m" d="M574.1 63.2L610.8 114.7"/>
<path class="m" d="M212.5 338.3L250.8 387.6"/>
<text class="t" x="365" y="221.5" font-size="14.7" text-anchor="middle" transform="rotate(-37.2 365 221.5)">320</text>
<path class="m" d="M182.9 353.4L465.3 519.9"/>
<path class="a" d="M182.9 353.4L192.24 356.47L190.1 360.08Z"/>
<path class="a" d="M465.3 519.9L455.96 516.83L458.1 513.22Z"/>
<path class="m" d="M181.7 355.4L245.2 247.7"/>
<path class="m" d="M464.1 521.9L529.4 413.2"/>
<text class="t" x="326.2" y="432.8" font-size="14.3" text-anchor="middle" transform="rotate(30.5 326.2 432.8)">232</text>
<path class="m" d="M786 389.6L647.8 530.7"/>
<path class="a" d="M786 389.6L780.78 397.93L777.78 394.99Z"/>
<path class="a" d="M647.8 530.7L653.02 522.37L656.02 525.31Z"/>
<path class="m" d="M788 391.6L667.7 273.1"/>
<path class="m" d="M649.8 532.7L529.4 413.2"/>
<text class="t" x="719.5" y="449" font-size="14.7" text-anchor="middle" transform="rotate(-45.5 719.5 449)">139</text>
<path class="m" d="M388.2 564.1L396.49 549.71A8 8 0 0 1 403.42 545.7L556.38 545.7A8 8 0 0 1 563.31 549.71L571.6 564.1"/>
<circle class="m" cx="408" cy="559.6" r="6.2"/>
<circle class="m" cx="551.9" cy="559.6" r="6.2"/>
<path class="m" d="M388.2 806.5L396.49 820.89A8 8 0 0 0 403.42 824.9L556.38 824.9A8 8 0 0 0 563.31 820.89L571.6 806.5"/>
<circle class="m" cx="408" cy="811" r="6.2"/>
<circle class="m" cx="551.9" cy="811" r="6.2"/>
<path class="m" d="M663.5 567.2 Q667.5 565.6 670.5 566 Q679.5 567.5 681.4 578.4"/>
<path class="gk" d="M670 578.6L681.4 578.6"/>
<path class="m" d="M681.4 578.4 Q690.6 581 691.9 592.4 L691.9 606.5"/>
<path class="m" d="M682.7 579.5L682.7 593.4"/>
<path class="m" d="M670 593.4L676.7 593.4"/>
<path class="m" d="M670 599.3L676.7 599.3"/>
<rect class="m" x="676.7" y="593.4" width="12.7" height="5.9"/>
<rect class="m" x="670" y="600.2" width="16" height="5.9"/>
<rect class="m" x="670" y="606.5" width="23.6" height="5.9"/>
<path class="m" d="M663.5 803.4 Q667.5 805 670.5 804.6 Q679.5 803.1 681.4 792.2"/>
<path class="gk" d="M670 792L681.4 792"/>
<path class="m" d="M681.4 792.2 Q690.6 789.6 691.9 778.2 L691.9 764.1"/>
<path class="m" d="M682.7 791.1L682.7 777.2"/>
<path class="m" d="M670 777.2L676.7 777.2"/>
<path class="m" d="M670 771.3L676.7 771.3"/>
<rect class="m" x="676.7" y="771.3" width="12.7" height="5.9"/>
<rect class="m" x="670" y="764.5" width="16" height="5.9"/>
<rect class="m" x="670" y="758.2" width="23.6" height="5.9"/>
<path class="m" d="M685.6 612.4L685.6 758.2"/>
<path class="m" d="M692 612.4L692 758.2"/>
<rect class="mw" x="207.2" y="564.1" width="462.8" height="242.4" rx="14.5"/>
<circle class="m" cx="220.6" cy="577.7" r="3.7"/>
<circle class="m" cx="438.4" cy="577.5" r="3.7"/>
<circle class="k2" cx="656.3" cy="577.4" r="3.3"/>
<path class="m" d="M219.5 600.7L241.5 600.7A6.2 6.2 0 0 0 241.5 588.3L219.5 588.3A6.2 6.2 0 0 0 219.5 600.7Z"/>
<path class="m" d="M645.2 600.4L655.3 600.4A6 6 0 0 0 655.3 588.4L645.2 588.4A6 6 0 0 0 645.2 600.4Z"/>
<path class="m" d="M226 598L226 593.2L232 593.2L232 588.4"/>
<path class="m" d="M226 598L247 598"/>
<path class="m" d="M232 593.2L247.5 593.2"/>
<path class="m" d="M640 596.5L650 595.3L653 590.8L661 590.3"/>
<path class="m" d="M653 590.8L653 595.8"/>
<path class="m" d="M269.27 585.1L285.17 600.4A6.1 6.1 0 0 0 293.63 591.6L277.73 576.3A6.1 6.1 0 0 0 269.27 585.1Z"/>
<path class="m" d="M281.7 594L294.9 594"/>
<path class="m" d="M285 599.5L293 599.5"/>
<path class="m" d="M478.36 576.41L462.66 592.31A6.1 6.1 0 0 0 471.34 600.89L487.04 584.99A6.1 6.1 0 0 0 478.36 576.41Z"/>
<path class="k15" d="M461.1 594.4L475.2 594.4"/>
<path class="m" d="M463.2 600L470.7 600"/>
<path class="m" d="M301.37 585.1L317.27 600.4A6.1 6.1 0 0 0 325.73 591.6L309.83 576.3A6.1 6.1 0 0 0 301.37 585.1Z"/>
<path class="k15" d="M313.8 594L327 594"/>
<path class="m" d="M317.1 599.5L325.1 599.5"/>
<path class="m" d="M510.26 576.41L494.56 592.31A6.1 6.1 0 0 0 503.24 600.89L518.94 584.99A6.1 6.1 0 0 0 510.26 576.41Z"/>
<path class="k15" d="M493 594.4L507.1 594.4"/>
<path class="m" d="M495.1 600L502.6 600"/>
<path class="m" d="M333.47 585.1L349.37 600.4A6.1 6.1 0 0 0 357.83 591.6L341.93 576.3A6.1 6.1 0 0 0 333.47 585.1Z"/>
<path class="m" d="M345.9 594L359.1 594"/>
<path class="m" d="M349.2 599.5L357.2 599.5"/>
<path class="m" d="M542.16 576.41L526.46 592.31A6.1 6.1 0 0 0 535.14 600.89L550.84 584.99A6.1 6.1 0 0 0 542.16 576.41Z"/>
<path class="m" d="M524.9 594.4L539 594.4"/>
<path class="m" d="M527 600L534.5 600"/>
<path class="m" d="M365.57 585.1L381.47 600.4A6.1 6.1 0 0 0 389.93 591.6L374.03 576.3A6.1 6.1 0 0 0 365.57 585.1Z"/>
<path class="k15" d="M378 594L391.2 594"/>
<path class="m" d="M381.3 599.5L389.3 599.5"/>
<path class="m" d="M574.06 576.41L558.36 592.31A6.1 6.1 0 0 0 567.04 600.89L582.74 584.99A6.1 6.1 0 0 0 574.06 576.41Z"/>
<path class="m" d="M556.8 594.4L570.9 594.4"/>
<path class="m" d="M558.9 600L566.4 600"/>
<path class="m" d="M397.67 585.1L413.57 600.4A6.1 6.1 0 0 0 422.03 591.6L406.13 576.3A6.1 6.1 0 0 0 397.67 585.1Z"/>
<path class="m" d="M410.1 594L423.3 594"/>
<path class="m" d="M413.4 599.5L421.4 599.5"/>
<path class="m" d="M605.96 576.41L590.26 592.31A6.1 6.1 0 0 0 598.94 600.89L614.64 584.99A6.1 6.1 0 0 0 605.96 576.41Z"/>
<path class="m" d="M588.7 594.4L602.8 594.4"/>
<path class="m" d="M590.8 600L598.3 600"/>
<rect class="s" x="263.6" y="606.5" width="29.1" height="6.3"/>
<rect class="s" x="367.4" y="606.5" width="29.2" height="6.3"/>
<rect class="s" x="470.8" y="606.5" width="29.7" height="6.3"/>
<rect class="s" x="574.7" y="606.5" width="29.2" height="6.3"/>
<rect class="s" x="525" y="652.4" width="22.4" height="6.3"/>
<rect class="s" x="637.3" y="652.4" width="22.3" height="6.3"/>
<circle class="m" cx="220.6" cy="792.9" r="3.7"/>
<circle class="m" cx="438.4" cy="793.1" r="3.7"/>
<circle class="k2" cx="656.3" cy="793.2" r="3.3"/>
<path class="m" d="M219.5 782.3L241.5 782.3A6.2 6.2 0 0 0 241.5 769.9L219.5 769.9A6.2 6.2 0 0 0 219.5 782.3Z"/>
<path class="m" d="M645.2 782.2L655.3 782.2A6 6 0 0 0 655.3 770.2L645.2 770.2A6 6 0 0 0 645.2 782.2Z"/>
<path class="m" d="M226 772.6L226 777.4L232 777.4L232 782.2"/>
<path class="m" d="M226 772.6L247 772.6"/>
<path class="m" d="M232 777.4L247.5 777.4"/>
<path class="m" d="M640 774.1L650 775.3L653 779.8L661 780.3"/>
<path class="m" d="M653 779.8L653 774.8"/>
<path class="m" d="M277.73 794.3L293.63 779A6.1 6.1 0 0 0 285.17 770.2L269.27 785.5A6.1 6.1 0 0 0 277.73 794.3Z"/>
<path class="m" d="M281.7 776.6L294.9 776.6"/>
<path class="m" d="M285 771.1L293 771.1"/>
<path class="m" d="M487.04 785.61L471.34 769.71A6.1 6.1 0 0 0 462.66 778.29L478.36 794.19A6.1 6.1 0 0 0 487.04 785.61Z"/>
<path class="k15" d="M461.1 776.2L475.2 776.2"/>
<path class="m" d="M463.2 770.6L470.7 770.6"/>
<path class="m" d="M309.83 794.3L325.73 779A6.1 6.1 0 0 0 317.27 770.2L301.37 785.5A6.1 6.1 0 0 0 309.83 794.3Z"/>
<path class="k15" d="M313.8 776.6L327 776.6"/>
<path class="m" d="M317.1 771.1L325.1 771.1"/>
<path class="m" d="M518.94 785.61L503.24 769.71A6.1 6.1 0 0 0 494.56 778.29L510.26 794.19A6.1 6.1 0 0 0 518.94 785.61Z"/>
<path class="k15" d="M493 776.2L507.1 776.2"/>
<path class="m" d="M495.1 770.6L502.6 770.6"/>
<path class="m" d="M341.93 794.3L357.83 779A6.1 6.1 0 0 0 349.37 770.2L333.47 785.5A6.1 6.1 0 0 0 341.93 794.3Z"/>
<path class="m" d="M345.9 776.6L359.1 776.6"/>
<path class="m" d="M349.2 771.1L357.2 771.1"/>
<path class="m" d="M550.84 785.61L535.14 769.71A6.1 6.1 0 0 0 526.46 778.29L542.16 794.19A6.1 6.1 0 0 0 550.84 785.61Z"/>
<path class="m" d="M524.9 776.2L539 776.2"/>
<path class="m" d="M527 770.6L534.5 770.6"/>
<path class="m" d="M374.03 794.3L389.93 779A6.1 6.1 0 0 0 381.47 770.2L365.57 785.5A6.1 6.1 0 0 0 374.03 794.3Z"/>
<path class="k15" d="M378 776.6L391.2 776.6"/>
<path class="m" d="M381.3 771.1L389.3 771.1"/>
<path class="m" d="M582.74 785.61L567.04 769.71A6.1 6.1 0 0 0 558.36 778.29L574.06 794.19A6.1 6.1 0 0 0 582.74 785.61Z"/>
<path class="m" d="M556.8 776.2L570.9 776.2"/>
<path class="m" d="M558.9 770.6L566.4 770.6"/>
<path class="m" d="M406.13 794.3L422.03 779A6.1 6.1 0 0 0 413.57 770.2L397.67 785.5A6.1 6.1 0 0 0 406.13 794.3Z"/>
<path class="m" d="M410.1 776.6L423.3 776.6"/>
<path class="m" d="M413.4 771.1L421.4 771.1"/>
<path class="m" d="M614.64 785.61L598.94 769.71A6.1 6.1 0 0 0 590.26 778.29L605.96 794.19A6.1 6.1 0 0 0 614.64 785.61Z"/>
<path class="m" d="M588.7 776.2L602.8 776.2"/>
<path class="m" d="M590.8 770.6L598.3 770.6"/>
<rect class="s" x="263.6" y="757.8" width="29.1" height="6.3"/>
<rect class="s" x="367.4" y="757.8" width="29.2" height="6.3"/>
<rect class="s" x="470.8" y="757.8" width="29.7" height="6.3"/>
<rect class="s" x="574.7" y="757.8" width="29.2" height="6.3"/>
<rect class="s" x="525" y="711.9" width="22.4" height="6.3"/>
<rect class="s" x="637.3" y="711.9" width="22.3" height="6.3"/>
<path class="m" d="M235.6 633.8A9 9 0 0 1 244.6 624.8L297.87 624.8A4 4 0 0 1 300.4 625.7L333.56 652.8A5 5 0 0 1 335.4 656.67L335.4 713.33A5 5 0 0 1 333.56 717.2L300.4 744.3A4 4 0 0 1 297.87 745.2L244.6 745.2A9 9 0 0 1 235.6 736.2Z"/>
<clipPath id="c1"><path d="M235.6 633.8A9 9 0 0 1 244.6 624.8L297.87 624.8A4 4 0 0 1 300.4 625.7L333.56 652.8A5 5 0 0 1 335.4 656.67L335.4 713.33A5 5 0 0 1 333.56 717.2L300.4 744.3A4 4 0 0 1 297.87 745.2L244.6 745.2A9 9 0 0 1 235.6 736.2Z"/></clipPath><g clip-path="url(#c1)">
<path class="m" d="M263 624.8L263 745.2"/>
<path class="m" d="M265.6 624.8L265.6 745.2"/>
<path class="m" d="M269.2 624.8L269.2 745.2"/>
<path class="m" d="M271.4 624.8L271.4 745.2"/>
<path class="m" d="M273.6 624.8L273.6 745.2"/>
<path class="m" d="M269.2 624.8Q269 639 263 641.2M269.2 745.2Q269 731 263 728.8"/>
<path class="k3" d="M263 664L271.4 664"/>
<path class="m" d="M263 669L271.4 669"/>
<path class="m" d="M263 671.5L271.4 671.5"/>
<path class="m" d="M263 678.3L271.4 678.3"/>
<path class="m" d="M263 691.8L271.4 691.8"/>
<path class="k3" d="M263 698.5L271.4 698.5"/>
<path class="m" d="M263 701L271.4 701"/>
<path class="k3" d="M263 707L266.5 707"/>
<path class="m" d="M263 645.5L271.4 645.5"/>
<path class="m" d="M263 724.5L271.4 724.5"/>
<path class="m" d="M306.5 633L293.4 648.8L293.4 720.6L306.5 737"/>
<path class="m" d="M311 634.5L335.4 654.9"/>
<clipPath id="c1b"><path d="M293.4 648.8L306.5 633L311 634.5L335.4 654.3L335.4 715.7L311 735.5L306.5 737L293.4 720.6Z"/></clipPath><g clip-path="url(#c1b)">
<ellipse class="m" cx="312" cy="685" rx="19" ry="30"/>
<ellipse class="m" cx="318" cy="685" rx="24" ry="39"/>
<ellipse class="mw" cx="321.2" cy="685" rx="21.7" ry="38"/>
<ellipse class="mw" cx="326" cy="685" rx="15.7" ry="27"/>
<ellipse class="m" cx="333" cy="685" rx="14" ry="26"/>
<ellipse class="mw" cx="339.5" cy="685" rx="21.6" ry="37"/>
<ellipse class="mw" cx="347" cy="685" rx="16.8" ry="26"/>
</g>
<rect class="kf" x="294.2" y="678.3" width="5.1" height="14.3"/>
</g>
<path class="m" d="M449.52 625.63A4 4 0 0 1 451.96 624.8L504 624.8A9 9 0 0 1 513 633.8L513 736.2A9 9 0 0 1 504 745.2L451.96 745.2A4 4 0 0 1 449.52 744.37L414.96 717.8A4 4 0 0 1 413.4 714.63L413.4 655.37A4 4 0 0 1 414.96 652.2Z"/>
<clipPath id="c2"><path d="M449.52 625.63A4 4 0 0 1 451.96 624.8L504 624.8A9 9 0 0 1 513 633.8L513 736.2A9 9 0 0 1 504 745.2L451.96 745.2A4 4 0 0 1 449.52 744.37L414.96 717.8A4 4 0 0 1 413.4 714.63L413.4 655.37A4 4 0 0 1 414.96 652.2Z"/></clipPath><g clip-path="url(#c2)">
<path class="m" d="M415.8 650L415.8 720"/>
<path class="m" d="M415.8 658L424 652"/>
<path class="m" d="M415.8 712L424 718"/>
<ellipse class="mw" cx="432.8" cy="685" rx="16" ry="38"/>
<ellipse class="mw" cx="435" cy="685" rx="9.6" ry="26.8"/>
<path class="m" d="M429.3 711Q432.8 713.5 435.8 711"/>
<ellipse class="mw" cx="452.2" cy="685" rx="16" ry="38"/>
<ellipse class="mw" cx="454.4" cy="685" rx="9.6" ry="26.8"/>
<path class="m" d="M448.7 711Q452.2 713.5 455.2 711"/>
<ellipse class="mw" cx="471.6" cy="685" rx="16" ry="38"/>
<ellipse class="mw" cx="473.8" cy="685" rx="9.6" ry="26.8"/>
<path class="m" d="M468.1 711Q471.6 713.5 474.6 711"/>
<ellipse class="mw" cx="499.8" cy="688.2" rx="26.6" ry="33.2"/>
<path class="m" d="M499.8 656.8A23.3 31.4 0 0 0 499.8 719.6"/>
<path class="m" d="M499.8 659.8A18 28.4 0 0 0 499.8 716.6"/>
<path class="m" d="M499.8 661.4A15.3 26.8 0 0 0 499.8 715"/>
<path class="fw" d="M499.8 656L513.5 654.6L513.5 716L499.8 716Z"/>
<path class="m" d="M495.9 656.4L513.1 654.4"/>
<rect class="mw" x="489.9" y="645.3" width="23.6" height="9.3"/>
<path class="m" d="M495.9 645.3L495.9 654.6"/>
<path class="m" d="M489.9 646.6L513 646.6"/>
<path class="m" d="M493.5 654.6L493.5 656.2"/>
<path class="m" d="M513 659.5L510.5 661.5L510.8 664.5L507.5 667L507.2 670L503.8 672.5L502.5 675.5L499.8 678L500.2 681.5L498 684.5L497.2 688.5L498.6 691.5L497.3 694.5L499.2 697.5L499.5 701L498.6 704L500 706.5L504 707.5L507 709.6L513 709.6"/>
<path class="m" d="M514.3 659.9L511.8 661.9L512.1 664.9L508.8 667.4L508.5 670.4L505.1 672.9L503.8 675.9L501.1 678.4L501.5 681.9L499.3 684.9L498.5 688.9L499.9 691.9L498.6 694.9L500.5 697.9L500.8 701.4L499.9 704.4L501.3 706.9"/>
<path class="m" d="M500.5 705Q502 704 506.5 706.3L513 706.3"/>
<path class="m" d="M483.1 624.8L496.5 644.6"/>
<path class="m" d="M487.7 624.8L499.8 643.3"/>
<path class="m" d="M491.5 745.3L498.5 723.5"/>
<path class="m" d="M496 745.3L501.4 726"/>
</g>
<path class="m" d="M207.4 665.6L193.1 662.2Q189 666 188 674.5Q189.5 677 191.4 677L202.8 678.3L204 679.3L204 690.5L202.8 691.4L191 692.4Q188.8 693 189.3 696Q190 703 193.5 708.2L207.4 704"/>
<path class="m" d="M193.1 662.2Q190.8 668 191.4 677M193.5 708.2Q191 700 191 692.4M191.4 675.2L207.4 673.5M193.5 706.5L207.4 702M204 679.3L207.4 679.3M204 690.5L207.4 690.5"/>
<path class="m" d="M107.7 564.1L221.2 564.1"/>
<path class="m" d="M107.7 806.5L221.2 806.5"/>
<path class="m" d="M110.8 564.1L110.8 806.5"/>
<path class="a" d="M110.8 564.1L112.9 573.7L108.7 573.7Z"/>
<path class="a" d="M110.8 806.5L108.7 796.9L112.9 796.9Z"/>
<text class="t" x="108.2" y="674.9" font-size="14.7" text-anchor="middle" transform="rotate(-90 108.2 674.9)" letter-spacing="0.5">171</text>
<path class="m" d="M206.9 529.5L206.9 575"/>
<path class="m" d="M670.6 529.5L670.6 575"/>
<path class="m" d="M206.9 532.5L670.6 532.5"/>
<path class="a" d="M206.9 532.5L216.5 530.4L216.5 534.6Z"/>
<path class="a" d="M670.6 532.5L661 534.6L661 530.4Z"/>
<text class="t" x="507.6" y="529.2" font-size="14.3" text-anchor="middle">326,50</text>
<path class="m" d="M914.9 33L914.9 70.9"/>
<path class="m" d="M1158 33L1158 70.9"/>
<path class="m" d="M914.9 36.6L1158 36.6"/>
<path class="a" d="M914.9 36.6L924.5 34.5L924.5 38.7Z"/>
<path class="a" d="M1158 36.6L1148.4 38.7L1148.4 34.5Z"/>
<text class="t" x="1034.9" y="33.2" font-size="14.7" text-anchor="middle" letter-spacing="0.4">171</text>
<path class="m" d="M896.8 449.3L896.8 503"/>
<path class="m" d="M1176.3 449.3L1176.3 503"/>
<path class="m" d="M896.8 500.4L1176.3 500.4"/>
<path class="a" d="M896.8 500.4L906.4 498.3L906.4 502.5Z"/>
<path class="a" d="M1176.3 500.4L1166.7 502.5L1166.7 498.3Z"/>
<text class="t" x="1027.3" y="496.6" font-size="14.7" text-anchor="middle">197,02</text>
<rect class="m" x="914.9" y="64.9" width="243.1" height="6"/>
<path class="m" d="M929.5 64.9L929.5 70.9"/>
<path class="m" d="M1143.4 64.9L1143.4 70.9"/>
<path class="k3" d="M957.4 64.9L963.5 64.9"/>
<path class="k3" d="M1003.4 64.9L1009.7 64.9"/>
<path class="k3" d="M1063.3 64.9L1069.6 64.9"/>
<path class="k3" d="M1109.4 64.9L1115.5 64.9"/>
<rect class="m" x="896.8" y="449.3" width="279.5" height="6.1"/>
<path class="m" d="M903.5 449.3L903.5 455.4"/>
<path class="m" d="M928.5 449.3L928.5 455.4"/>
<path class="m" d="M943.2 449.3L943.2 455.4"/>
<path class="m" d="M985.7 449.3L985.7 455.4"/>
<path class="m" d="M993.7 449.3L993.7 455.4"/>
<path class="m" d="M1002.5 449.3L1002.5 455.4"/>
<path class="m" d="M1070.6 449.3L1070.6 455.4"/>
<path class="m" d="M1078.6 449.3L1078.6 455.4"/>
<path class="m" d="M1087.4 449.3L1087.4 455.4"/>
<path class="m" d="M1129 449.3L1129 455.4"/>
<path class="m" d="M1144 449.3L1144 455.4"/>
<path class="m" d="M1169.5 449.3L1169.5 455.4"/>
<path class="k3" d="M956.8 455.4L964 455.4"/>
<path class="k3" d="M1024.9 455.4L1047.3 455.4"/>
<path class="k3" d="M1109 455.4L1115.4 455.4"/>
<path class="mw" d="M944.6 93 L931.6 93 L931.6 122.4 L944.6 122.4"/>
<path class="mw" d="M931.6 94.2 A13.9 13.5 0 0 0 931.6 121.2"/>
<path class="m" d="M930.4 94.2L930.4 121.2"/>
<path class="mw" d="M944.6 232.4 L931.6 232.4 L931.6 260.8 L944.6 260.8"/>
<path class="mw" d="M931.6 233.6 A13.9 13 0 0 0 931.6 259.6"/>
<path class="m" d="M930.4 233.6L930.4 259.6"/>
<path class="mw" d="M944.6 260.8 L931.6 260.8 L931.6 288.7 L944.6 288.7"/>
<path class="mw" d="M931.6 262 A13.9 12.75 0 0 0 931.6 287.5"/>
<path class="m" d="M930.4 262L930.4 287.5"/>
<path class="mw" d="M944.6 399.9 L931.6 399.9 L931.6 428 L944.6 428"/>
<path class="mw" d="M931.6 401.1 A13.9 12.85 0 0 0 931.6 426.8"/>
<path class="m" d="M930.4 401.1L930.4 426.8"/>
<rect class="mw" x="1127.9" y="93" width="2.9" height="29.2"/>
<rect class="mw" x="1130.8" y="94.3" width="11" height="26.6"/>
<path class="m" d="M1130.8 100.28L1141.8 100.28"/>
<path class="m" d="M1130.8 114.92L1141.8 114.92"/>
<path class="mw" d="M1141.8 95.9 L1145.4 95.9 Q1147.3 96.1 1147.5 98.3 L1147.5 116.9 Q1147.3 119.1 1145.4 119.3 L1141.8 119.3"/>
<path class="m" d="M1145.5 95.9L1145.5 119.3"/>
<rect class="mw" x="1127.9" y="232.9" width="2.9" height="27.9"/>
<rect class="mw" x="1130.8" y="234.2" width="11" height="25.3"/>
<path class="m" d="M1130.8 239.89L1141.8 239.89"/>
<path class="m" d="M1130.8 253.81L1141.8 253.81"/>
<path class="mw" d="M1141.8 235.8 L1145.4 235.8 Q1147.3 236 1147.5 238.2 L1147.5 255.5 Q1147.3 257.7 1145.4 257.9 L1141.8 257.9"/>
<path class="m" d="M1145.5 235.8L1145.5 257.9"/>
<rect class="mw" x="1127.9" y="258.5" width="2.9" height="30"/>
<rect class="mw" x="1130.8" y="259.8" width="11" height="27.4"/>
<path class="m" d="M1130.8 265.97L1141.8 265.97"/>
<path class="m" d="M1130.8 281.03L1141.8 281.03"/>
<path class="mw" d="M1141.8 261.4 L1145.4 261.4 Q1147.3 261.6 1147.5 263.8 L1147.5 283.2 Q1147.3 285.4 1145.4 285.6 L1141.8 285.6"/>
<path class="m" d="M1145.5 261.4L1145.5 285.6"/>
<rect class="mw" x="1127.9" y="399.5" width="2.9" height="29"/>
<rect class="mw" x="1130.8" y="400.8" width="11" height="26.4"/>
<path class="m" d="M1130.8 406.74L1141.8 406.74"/>
<path class="m" d="M1130.8 421.26L1141.8 421.26"/>
<path class="mw" d="M1141.8 402.4 L1145.4 402.4 Q1147.3 402.6 1147.5 404.8 L1147.5 423.2 Q1147.3 425.4 1145.4 425.6 L1141.8 425.6"/>
<path class="m" d="M1145.5 402.4L1145.5 425.6"/>
<rect class="m" x="957.4" y="70.9" width="6.1" height="200.8"/>
<rect class="m" x="957.4" y="392.6" width="6.1" height="56.7"/>
<path class="m" d="M957.4 407L963.5 407"/>
<path class="m" d="M957.4 418L963.5 418"/>
<path class="m" d="M957.4 431.5L963.5 431.5"/>
<path class="m" d="M957.4 442L963.5 442"/>
<rect class="m" x="944.6" y="84.5" width="6.2" height="350.7"/>
<path class="m" d="M944.6 265.5L950.8 265.5"/>
<path class="m" d="M944.6 227L950.8 227"/>
<path class="m" d="M944.6 404L950.8 404"/>
<path class="m" d="M944.6 428L950.8 428"/>
<path class="k2" d="M945.3 143L945.3 165"/>
<path class="k2" d="M945.3 190L945.3 215"/>
<path class="k2" d="M945.3 300L945.3 330"/>
<path class="k2" d="M945.3 362L945.3 385"/>
<rect class="m" x="951.4" y="87.4" width="6" height="37.2"/>
<path class="m" d="M953 90L953 122"/>
<rect class="m" x="951.4" y="229" width="6" height="36.2"/>
<rect class="m" x="951.4" y="396.5" width="6" height="35"/>
<rect class="m" x="1109.3" y="70.9" width="6.1" height="200.8"/>
<rect class="m" x="1109.3" y="392.6" width="6.1" height="56.7"/>
<path class="m" d="M1115.4 407L1109.3 407"/>
<path class="m" d="M1115.4 418L1109.3 418"/>
<path class="m" d="M1115.4 431.5L1109.3 431.5"/>
<path class="m" d="M1115.4 442L1109.3 442"/>
<rect class="m" x="1122" y="84.5" width="6.2" height="350.7"/>
<path class="m" d="M1128.2 265.5L1122 265.5"/>
<path class="m" d="M1128.2 227L1122 227"/>
<path class="m" d="M1128.2 404L1122 404"/>
<path class="m" d="M1128.2 428L1122 428"/>
<path class="k2" d="M1127.5 143L1127.5 165"/>
<path class="k2" d="M1127.5 190L1127.5 215"/>
<path class="k2" d="M1127.5 300L1127.5 330"/>
<path class="k2" d="M1127.5 362L1127.5 385"/>
<rect class="m" x="1115.4" y="87.4" width="6" height="37.2"/>
<path class="m" d="M1119.8 90L1119.8 122"/>
<rect class="m" x="1115.4" y="229" width="6" height="36.2"/>
<rect class="m" x="1115.4" y="396.5" width="6" height="35"/>
<path class="m" d="M950.8 124.4L957.4 124.4"/>
<path class="m" d="M1115.4 124.4L1122 124.4"/>
<path class="m" d="M950.8 128L957.4 128"/>
<path class="m" d="M1115.4 128L1122 128"/>
<path class="m" d="M950.8 130.4L957.4 130.4"/>
<path class="m" d="M1115.4 130.4L1122 130.4"/>
<path class="m" d="M950.8 227L1122 227"/>
<path class="m" d="M950.8 229.2L1122 229.2"/>
<path class="m" d="M950.8 265.2L1122 265.2"/>
<path class="m" d="M950.8 392.6L1005.7 392.6"/>
<path class="m" d="M950.8 396.2L1005.7 396.2"/>
<path class="m" d="M1078.6 392.6L1122 392.6"/>
<path class="m" d="M1078.6 396.2L1122 396.2"/>
<path class="m" d="M963.5 431.5L1010.5 431.5"/>
<path class="m" d="M1062 431.5L1109.3 431.5"/>
<path class="m" d="M950.8 348.3L975.4 348.3"/>
<path class="m" d="M1097.4 348.3L1122 348.3"/>
<path class="m" d="M1001.25 89.49A6 6 0 0 1 1005.43 87.8L1067.37 87.8A6 6 0 0 1 1071.55 89.49L1090.37 107.73A6 6 0 0 1 1092.2 112.04L1092.2 184.79A6 6 0 0 1 1090.17 189.29L1069.02 207.95A5 5 0 0 1 1065.71 209.2L1007.09 209.2A5 5 0 0 1 1003.78 207.95L982.63 189.29A6 6 0 0 1 980.6 184.79L980.6 112.04A6 6 0 0 1 982.43 107.73Z"/>
<clipPath id="s1"><path d="M1001.25 89.49A6 6 0 0 1 1005.43 87.8L1067.37 87.8A6 6 0 0 1 1071.55 89.49L1090.37 107.73A6 6 0 0 1 1092.2 112.04L1092.2 184.79A6 6 0 0 1 1090.17 189.29L1069.02 207.95A5 5 0 0 1 1065.71 209.2L1007.09 209.2A5 5 0 0 1 1003.78 207.95L982.63 189.29A6 6 0 0 1 980.6 184.79L980.6 112.04A6 6 0 0 1 982.43 107.73Z"/></clipPath><g clip-path="url(#s1)">
<path class="m" d="M975 123.4L1100 123.4"/>
<path class="g" d="M975 126.4L1100 126.4"/>
<path class="m" d="M975 130.4L1100 130.4"/>
<path class="m" d="M996 124.2L998 126.5L1004 126.5M1008 124.2L1008 127.8M1012 124.2L1014 127.5L1018 127.5M1022 126.8L1050 126.8L1054 124.4M1030 127.8L1046 125M1058 124.2L1060 127.5L1066 127.5M1072 124.2L1072 127"/>
<path class="m" d="M998.34 149.76A5 5 0 0 1 1001.42 148.7L1071.38 148.7A5 5 0 0 1 1074.46 149.76L1092.2 163.6L1092.2 184.79A6 6 0 0 1 1090.17 189.29L1069.02 207.95A5 5 0 0 1 1065.71 209.2L1007.09 209.2A5 5 0 0 1 1003.78 207.95L982.63 189.29A6 6 0 0 1 980.6 184.79L980.6 163.6Z"/>
<path class="m" d="M1003.7 148.7L1003.7 170.4"/>
<path class="m" d="M1009 148.7L1009 170.4"/>
<path class="m" d="M1003.7 170.4L1009 170.4"/>
<path class="m" d="M1003.7 167.8L1009 167.8"/>
<path class="m" d="M1012 148.7L1012 172"/>
<path class="m" d="M1013.8 148.7L1013.8 170"/>
<path class="m" d="M1069.1 148.7L1069.1 170.4"/>
<path class="m" d="M1063.8 148.7L1063.8 170.4"/>
<path class="m" d="M1069.1 170.4L1063.8 170.4"/>
<path class="m" d="M1069.1 167.8L1063.8 167.8"/>
<path class="m" d="M1060.8 148.7L1060.8 172"/>
<path class="m" d="M1059 148.7L1059 170"/>
<path class="m" d="M1007.5 184Q1007 175 1012 171.5Q1015 166 1020 164.5Q1024 165.5 1028 165Q1033 162.5 1038 163.5Q1042 166.5 1047 167.5Q1052 168.5 1055.5 172"/>
<path class="m" d="M1056.5 176Q1059.5 168 1063 172Q1065 176 1064 181"/>
<path class="m" d="M1060.5 171.5L1061 179"/>
<path class="mw" d="M999 207Q1004 184 1021 175.5Q1038 166.5 1056 177Q1072 187 1075 203L1071.5 209.2L1004 209.2Z"/>
<path class="m" d="M1006 192.5Q1020 180.5 1036 180.3Q1054 181 1064 192"/>
<path class="m" d="M1006 193.5Q1020 182 1036 181.8Q1053 182.5 1063 192.5"/>
<path class="m" d="M1006 209.2Q1018 195 1033 194.4Q1050 194.5 1063.5 209.2"/>
<path class="m" d="M1012 206Q1022 197.5 1033 197.3Q1046 197.5 1056 206"/>
<rect class="mw" x="997.4" y="185.6" width="8.6" height="7.7"/>
<path class="m" d="M998.6 185.6L998.6 193.3"/>
<path class="m" d="M997.4 193.3L997.4 205"/>
<path class="m" d="M998.8 193.3L998.8 204"/>
</g>
<path class="m" d="M998.65 269.03A3 3 0 0 1 999.79 268.8L1073.01 268.8A3 3 0 0 1 1074.15 269.03L1094.72 277.48A4 4 0 0 1 1097.2 281.18L1097.2 349.8A5 5 0 0 1 1095.33 353.7L1070.27 373.8A5 5 0 0 1 1067.14 374.9L1005.66 374.9A5 5 0 0 1 1002.53 373.8L977.47 353.7A5 5 0 0 1 975.6 349.8L975.6 281.18A4 4 0 0 1 978.08 277.48Z"/>
<clipPath id="s2"><path d="M998.65 269.03A3 3 0 0 1 999.79 268.8L1073.01 268.8A3 3 0 0 1 1074.15 269.03L1094.72 277.48A4 4 0 0 1 1097.2 281.18L1097.2 349.8A5 5 0 0 1 1095.33 353.7L1070.27 373.8A5 5 0 0 1 1067.14 374.9L1005.66 374.9A5 5 0 0 1 1002.53 373.8L977.47 353.7A5 5 0 0 1 975.6 349.8L975.6 281.18A4 4 0 0 1 978.08 277.48Z"/></clipPath><g clip-path="url(#s2)">
<path class="m" d="M975 291.4L999 291.4"/>
<path class="m" d="M975 292.8L999 292.8"/>
<path class="m" d="M1073.8 291.4L1098 291.4"/>
<path class="m" d="M1073.8 292.8L1098 292.8"/>
<path class="m" d="M998.4 315.3L981.4 333.4Q979.6 337 979.6 341L979.6 349.5Q979.6 353 982 356L1003.5 372.5"/>
<path class="m" d="M977.2 353L1002.2 373.7"/>
<path class="m" d="M1074.4 315.3L1091.4 333.4Q1093.2 337 1093.2 341L1093.2 349.5Q1093.2 353 1090.8 356L1069.3 372.5"/>
<path class="m" d="M1095.6 353L1070.6 373.7"/>
<path class="mw" d="M998.4 268.8L998.4 345L1074.4 345L1074.4 268.8Z"/>
<path class="m" d="M999.6 270L999.6 300"/>
<path class="m" d="M1073.2 270L1073.2 300"/>
<ellipse class="mw" cx="1036.4" cy="272.7" rx="38" ry="32.5"/>
<path class="m" d="M1003.4 257.7A38 32.5 0 0 1 1069.4 257.7"/>
<ellipse class="mw" cx="1036.4" cy="287.1" rx="38" ry="32.5"/>
<path class="m" d="M1003.4 272.1A38 32.5 0 0 1 1069.4 272.1"/>
<ellipse class="mw" cx="1036.4" cy="301.5" rx="38" ry="32.5"/>
<path class="m" d="M1003.4 286.5A38 32.5 0 0 1 1069.4 286.5"/>
<ellipse class="mw" cx="1036.4" cy="315.9" rx="38" ry="32.5"/>
<path class="m" d="M1003.4 300.9A38 32.5 0 0 1 1069.4 300.9"/>
<ellipse class="mw" cx="1036.4" cy="330.3" rx="38" ry="32.5"/>
<path class="m" d="M1003.4 315.3A38 32.5 0 0 1 1069.4 315.3"/>
<ellipse class="mw" cx="1036.4" cy="344.7" rx="38" ry="32.5"/>
<clipPath id="s3"><ellipse cx="1036.4" cy="349" rx="26.8" ry="22.7"/></clipPath>
<ellipse class="mw" cx="1036.4" cy="349" rx="26.8" ry="22.7"/>
<g clip-path="url(#s3)">
<ellipse class="m" cx="1036.4" cy="334.8" rx="26.8" ry="22.7"/>
<ellipse class="m" cx="1036.4" cy="332.6" rx="28" ry="23.5"/>
<ellipse class="m" cx="1036.4" cy="320.6" rx="26.8" ry="22.7"/>
<ellipse class="m" cx="1036.4" cy="318.4" rx="28" ry="23.5"/>
</g>
<path class="mw" d="M998.8 360Q998.4 352 1004 352Q1010 352.5 1010.3 359Q1011.5 372 1027 378.5"/>
<path class="m" d="M998.8 358L1010.2 358"/>
</g>
<path class="mw" d="M1020.4 381L1077.3 381L1078.6 382.3L1078.6 393.8L1077.3 395.1L1020.4 395.1"/>
<path class="m" d="M1077 381L1077 395.1"/>
<rect class="mw" x="1014.5" y="375.9" width="5.9" height="73.4"/>
<rect class="mw" x="1052.1" y="375.9" width="5.7" height="73.4"/>
<rect class="mw" x="1057.8" y="373.8" width="2.7" height="28.4"/>
<rect class="mw" x="1005.7" y="375.9" width="8.8" height="24.7"/>
<path class="m" d="M1005.7 382.6L1014.5 382.6"/>
<path class="m" d="M1005.7 394.6L1014.5 394.6"/>
<path class="mw" d="M1015.3 449.3L1015.3 428.7A21.2 21.2 0 0 1 1057.7 428.7L1057.7 449.3"/>
<path class="m" d="M1020.4 395.1L1020.4 415"/>
<path class="m" d="M1052.1 395.1L1052.1 415"/>
<path class="m" d="M1015.3 412.3L1010.5 412.3L1010.5 437.1"/>
<path class="m" d="M1010.5 416L1015.3 416"/>
<path class="m" d="M1057.7 412.3L1062.4 412.3L1062.4 437.1"/>
<path class="m" d="M1057.7 416L1062.4 416"/>
<path class="m" d="M1015.3 437.1L997.7 437.1L997.7 449.3"/>
<path class="m" d="M1001.7 437.1L1001.7 443.5L997.7 443.5"/>
<path class="m" d="M1001.7 443.5L1015.3 443.5"/>
<path class="m" d="M1057.7 437.1L1075.4 437.1L1075.4 449.3"/>
<path class="m" d="M1071.4 437.1L1071.4 443.5L1075.4 443.5"/>
<path class="m" d="M1057.7 443.5L1071.4 443.5"/>
<path class="mw15" d="M1016.33 439.77L1060.33 416.67A2 2 0 0 0 1058.47 413.13L1014.47 436.23A2 2 0 0 0 1016.33 439.77Z"/>
<path class="mw15" d="M1036.2 438.9L1025.55 432.75L1025.55 420.45L1036.2 414.3L1046.85 420.45L1046.85 432.75Z"/>
<circle class="m" cx="1036.2" cy="426.6" r="10.6"/>
<circle class="k15" cx="1036.2" cy="426.6" r="8.8"/>
<circle class="k2" cx="1036.2" cy="426.6" r="6.7"/>
<circle class="m" cx="1036.2" cy="426.6" r="5"/>
<text class="t" x="733.5" y="31.2" font-size="14.5" text-anchor="middle">Метизы не показаны</text>
</svg>
</body></html>
